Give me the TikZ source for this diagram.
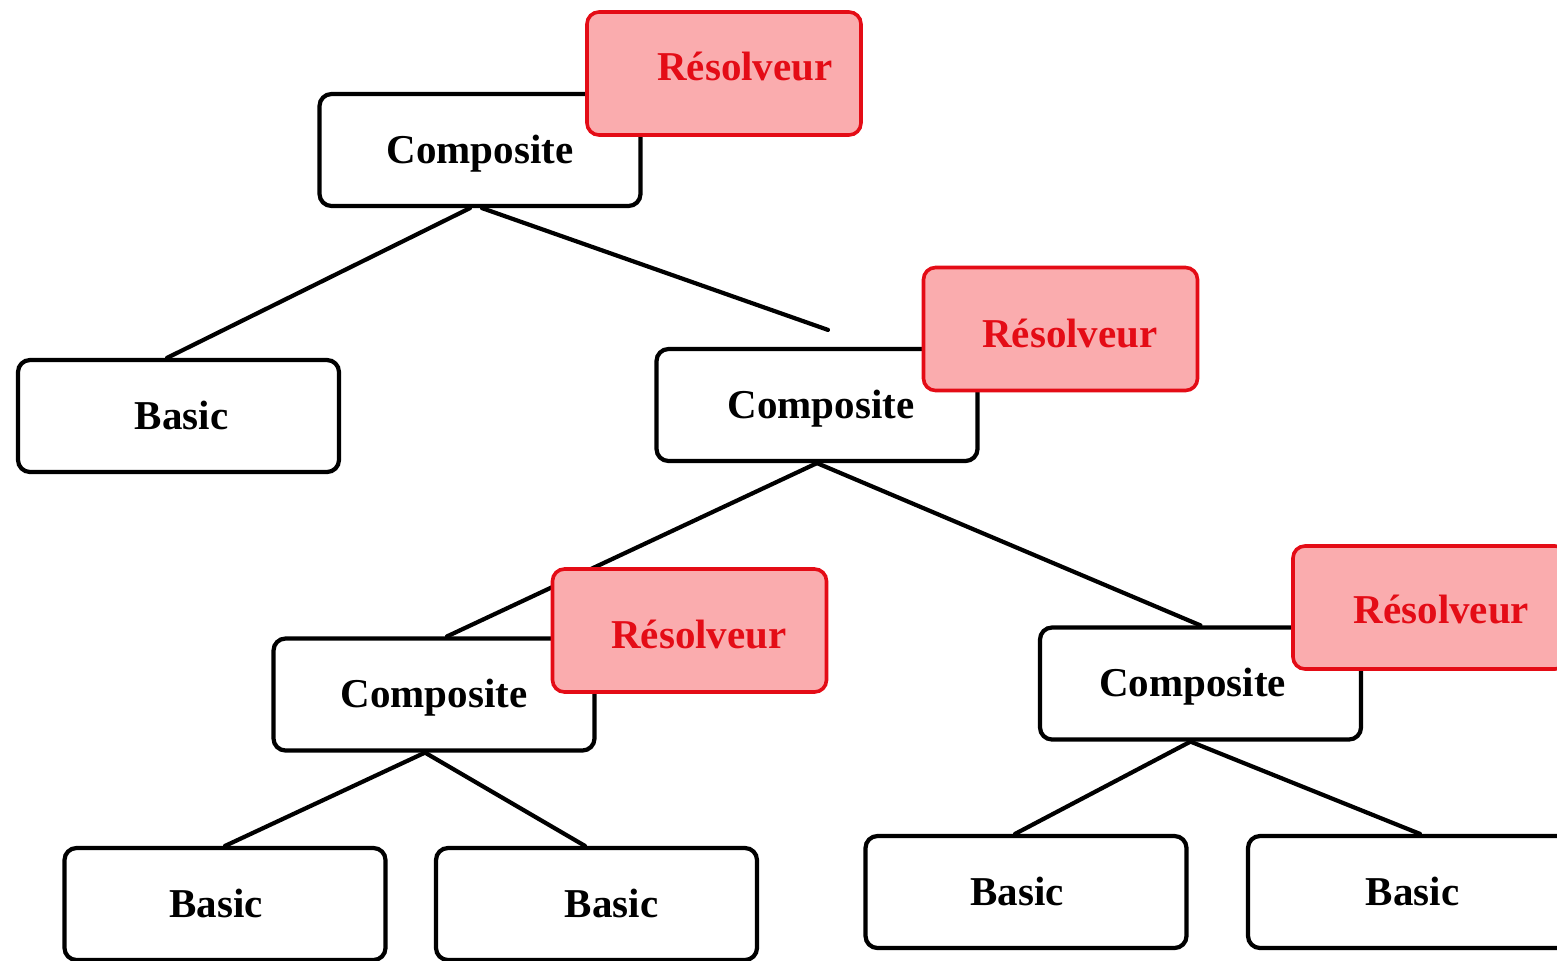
\documentclass[tikz,border=0pt]{standalone}
\usepackage{fontspec}
\setmainfont{Liberation Serif}
\usetikzlibrary{backgrounds}
\definecolor{resred}{RGB}{228,12,22}
\definecolor{respink}{RGB}{250,172,174}
\begin{document}
\begin{tikzpicture}[x=0.5pt,y=-0.5pt,
  labelfont/.style={font=\fontsize{20.5}{24}\selectfont\bfseries},
  box/.style={labelfont, draw=black, line width=2.1pt, rounded corners=6pt, fill=white,
    minimum width=160.5pt, minimum height=56pt, inner sep=0pt,
    text height=14pt, text depth=1pt},
  resbox/.style={draw=resred, fill=respink, line width=1.8pt, rounded corners=6pt,
    minimum width=137pt, minimum height=61.5pt, inner sep=0pt},
  restext/.style={labelfont, text=resred, anchor=base, inner sep=0pt},
  link/.style={line width=2.1pt, line cap=round}]
\useasboundingbox (0,0) rectangle (1557,960);
\clip (0,0) rectangle (1557,960);

% tree nodes (the \hspace* nudges the label off the box centre)
\node[box] (c1) at (480,150) {Composite};
\node[box] (b1) at (178.5,416) {\hspace*{3pt}Basic};
\node[box] (c2) at (817,405) {\hspace*{4pt}Composite};
\node[box] (c3) at (434,694.5) {Composite};
\node[box] (c4) at (1200.5,683.5) {Composite\hspace*{8pt}};
\node[box] (b2) at (225,904) {Basic\hspace*{9pt}};
\node[box] (b3) at (596.5,904) {\hspace*{15pt}Basic};
\node[box] (b4) at (1026,892) {Basic\hspace*{9pt}};
\node[box] (b5) at (1408.5,892) {\hspace*{4pt}Basic};

% solver tags sitting on each composite
\node[resbox] (r1) at (724,73.5) {};
\node[restext] (r1t) at (745,80) {Résolveur};
\node[resbox] (r2) at (1060.5,329) {};
\node[restext] (r2t) at (1070,347) {Résolveur};
\node[resbox] (r3) at (689.5,630.5) {};
\node[restext] (r3t) at (699,648) {Résolveur};
\node[resbox] (r4) at (1430,607.5) {};
\node[restext] (r4t) at (1441.5,623) {Résolveur};

% links
\begin{scope}[on background layer]
  \draw[link] ([xshift=-5pt]c1.south) -- ([xshift=-5.75pt]b1.north);
  \draw[link] ([xshift=1pt]c1.south) -- ([shift={(5.5pt,8.5pt)}]c2.north);
  \draw[link] (c2.south) -- ([xshift=6.5pt]c3.north);
  \draw[link] (c2.south) -- (c4.north);
  \draw[link] ([xshift=-4.5pt]c3.south) -- (b2.north);
  \draw[link] ([xshift=-4.5pt]c3.south) -- ([xshift=-5.75pt]b3.north);
  \draw[link] ([xshift=-5pt]c4.south) -- ([xshift=-5.5pt]b4.north);
  \draw[link] ([xshift=-5pt]c4.south) -- ([xshift=5.75pt]b5.north);
\end{scope}
\end{tikzpicture}
\end{document}
